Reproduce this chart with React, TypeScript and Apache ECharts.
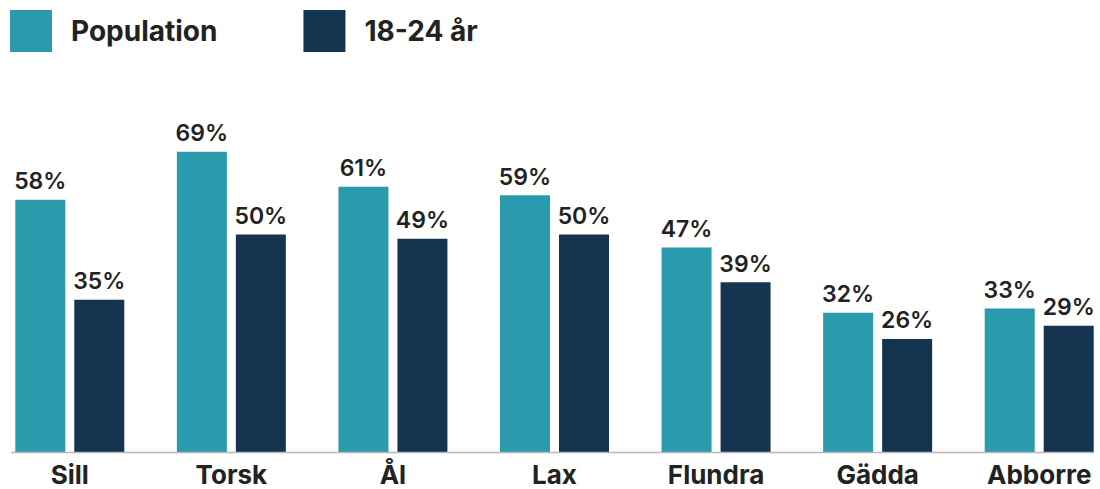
import React, { useEffect, useRef } from "react";
import * as echarts from "echarts";

const categories = ["Sill", "Torsk", "Ål", "Lax", "Flundra", "Gädda", "Abborre"];
const populationValues = [58, 69, 61, 59, 47, 32, 33];
const youngValues = [35, 50, 49, 50, 39, 26, 29];
const seriesNames = ["Population", "18-24 år"];

const TEAL = "#2a9aad";
const NAVY = "#14344f";
const TEXT = "#222222";
const FONT = "Inter, 'Noto Sans', sans-serif";
const SHIFT = 11;

export default function App() {
  const ref = useRef<HTMLDivElement>(null);
  useEffect(() => {
    document.body.style.margin = "0";
    const chart = echarts.init(ref.current!, null, { renderer: "svg" });
    const label = {
      show: true,
      position: "top",
      distance: 7,
      formatter: (p: any) => p.value + "%",
      color: TEXT,
      fontFamily: FONT,
      fontWeight: 600,
      fontSize: 23,
    };
    chart.setOption({
      animation: false,
      legend: {
        left: 10 + SHIFT,
        top: 10,
        padding: 0,
        itemWidth: 42,
        itemHeight: 42,
        itemGap: 86,
        icon: "rect",
        data: seriesNames,
        textStyle: {
          color: TEXT,
          fontFamily: FONT,
          fontWeight: 700,
          fontSize: 28,
          padding: [0, 0, 0, 14],
        },
      },
      grid: { left: 0, right: 0, top: 17, bottom: 37 },
      xAxis: {
        type: "category",
        data: categories,
        axisLine: { show: false },
        axisTick: { show: false },
        axisLabel: {
          color: TEXT,
          fontFamily: FONT,
          fontWeight: 700,
          fontSize: 26,
          margin: 9,
        },
      },
      yAxis: { type: "value", min: 0, max: 100, show: false, splitLine: { show: false } },
      series: [
        {
          name: seriesNames[0],
          type: "bar",
          data: populationValues,
          barWidth: 50,
          barGap: "18%",
          itemStyle: { color: TEAL },
          label,
        },
        {
          name: seriesNames[1],
          type: "bar",
          data: youngValues,
          barWidth: 50,
          itemStyle: { color: NAVY },
          label,
        },
      ],
      graphic: [
        {
          type: "line",
          shape: { x1: 11 + SHIFT, y1: 452.5, x2: 1094 + SHIFT, y2: 452.5 },
          style: { stroke: "#b8b8b8", lineWidth: 1.5 },
          z: 10,
        },
      ],
    });
    return () => chart.dispose();
  }, []);
  return (
    <div style={{ width: 1100, height: 489, overflow: "hidden", position: "relative" }}>
      <div ref={ref} style={{ width: 1131, height: 489, marginLeft: -SHIFT }} />
    </div>
  );
}
